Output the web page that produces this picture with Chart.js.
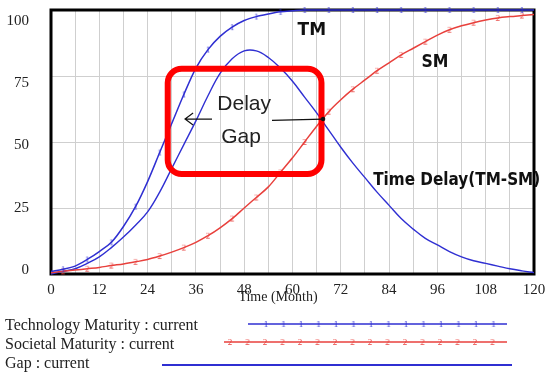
<!DOCTYPE html>
<html>
<head>
<meta charset="utf-8">
<script src="https://cdn.jsdelivr.net/npm/chart.js@4.4.1/dist/chart.umd.min.js"></script>
<style>
  html, body { margin: 0; padding: 0; background: #fff; }
</style>
</head>
<body>
<canvas id="chart" width="547" height="373"></canvas>
<script>
// ================= DATA =================
const months = [0, 3, 6, 9, 12, 15, 18, 21, 24, 27, 30, 33, 36, 39, 42, 45, 48, 51, 54, 57, 60,
  63, 66, 69, 72, 75, 78, 81, 84, 87, 90, 93, 96, 99, 102, 105, 108, 111, 114, 117, 120];

// Technology Maturity (TM)
const techMaturity = [1, 1.8, 3, 5.5, 8.5, 12, 18, 25.5, 35, 46, 57, 68, 78, 85, 90, 93.5, 96, 97.5, 98.5, 99.3, 99.7,
  100, 100, 100, 100, 100, 100, 100, 100, 100, 100, 100, 100, 100, 100, 100, 100, 100, 100, 100, 100];

// Societal Maturity (SM)
const socMaturity = [0.5, 1, 1.5, 2, 2.5, 3.2, 3.8, 4.6, 5.5, 6.8, 8.3, 10, 12, 14.5, 17.5, 21, 25, 29, 33, 38.5, 44,
  50, 56, 61.5, 66, 70, 73.5, 77, 80, 83, 85.5, 88, 90.5, 92.5, 94, 95.2, 96.2, 97, 97.5, 97.9, 98.3];

// Gap / Time Delay (TM-SM)
const gap = [0, 1, 2, 4, 6.5, 10, 14, 18.5, 23.5, 31, 40, 49, 58, 67.5, 76, 81.5, 84.5, 84.5, 82, 78, 73,
  67, 61, 54.5, 48, 42, 36.5, 31, 26, 21, 17, 13.5, 11, 8.5, 6.5, 5, 4, 3, 2, 1.2, 0.5];

const xTicks = [0, 12, 24, 36, 48, 60, 72, 84, 96, 108, 120];
const yTicks = [0, 25, 50, 75, 100];

const legendNames = ["Technology Maturity : current", "Societal Maturity : current", "Gap : current"];
const xTitle = "Time (Month)";

// ================= STYLE =================
const BLUE = "#2f2fd2";
const RED = "#e8403c";
const SERIF = '"Liberation Serif", "Times New Roman", serif';

function makeMark(ch, color) {
  const c = document.createElement("canvas");
  c.width = 8; c.height = 10;
  const g = c.getContext("2d");
  g.fillStyle = color;
  g.font = "9px " + SERIF;
  g.textAlign = "center";
  g.textBaseline = "middle";
  g.fillText(ch, 4, 5.5);
  return c;
}
const mark1 = makeMark("1", BLUE);
const mark2 = makeMark("2", RED);

const toPts = ys => months.map((m, i) => ({ x: m, y: ys[i] }));

const noPad = s => {
  s.paddingTop = 0; s.paddingBottom = 0;
  s.paddingLeft = 0; s.paddingRight = 0;
};

// ================= ANNOTATIONS =================
const notes = {
  id: "notes",
  beforeDatasetsDraw(chart) {
    const { ctx, chartArea: a } = chart;
    ctx.save();
    ctx.strokeStyle = "#000";
    ctx.lineWidth = 3;
    ctx.strokeRect(a.left, a.top, a.right - a.left, a.bottom - a.top);
    ctx.restore();
  },
  afterDraw(chart) {
    const { ctx, chartArea: a } = chart;
    const X = v => chart.scales.x.getPixelForValue(v);
    const Y = v => chart.scales.y.getPixelForValue(v);
    ctx.save();

    // red rounded box
    ctx.strokeStyle = "#ff0000";
    ctx.lineWidth = 6;
    ctx.beginPath();
    ctx.roundRect(X(29), Y(77.7), X(67.2) - X(29), Y(37.9) - Y(77.7), 14);
    ctx.stroke();

    // Delay Gap text
    ctx.fillStyle = "#222";
    ctx.font = '21px "Liberation Sans", Arial, sans-serif';
    ctx.textAlign = "center";
    ctx.textBaseline = "alphabetic";
    ctx.fillText("Delay", X(48), Y(62), 54);
    ctx.fillText("Gap", X(47.2), Y(49.5), 40);

    // arrows
    ctx.strokeStyle = "#111";
    ctx.lineWidth = 1.2;
    ctx.beginPath();
    ctx.moveTo(X(40), Y(58.7));
    ctx.lineTo(X(33.3), Y(58.7));
    ctx.moveTo(X(35.3), Y(61));
    ctx.lineTo(X(33.3), Y(58.7));
    ctx.lineTo(X(35.3), Y(56.4));
    ctx.moveTo(X(54.9), Y(58.2));
    ctx.lineTo(X(67.6), Y(58.7));
    ctx.stroke();
    ctx.fillStyle = "#111";
    ctx.beginPath();
    ctx.arc(X(67.6), Y(58.7), 2.2, 0, Math.PI * 2);
    ctx.fill();

    // curve labels
    ctx.fillStyle = "#111";
    ctx.textBaseline = "middle";
    ctx.font = 'bold 17px "DejaVu Sans", sans-serif';
    ctx.fillText("TM", X(64.8), Y(92.2), 29);
    ctx.fillText("SM", X(95.4), Y(80), 27);
    ctx.fillText("Time Delay(TM-SM)", X(100.8), Y(35.4), 167);

    // axis title
    ctx.font = "14px " + SERIF;
    ctx.fillStyle = "#222";
    ctx.fillText(xTitle, 278, a.bottom + 23);

    // legend
    ctx.textAlign = "left";
    ctx.textBaseline = "alphabetic";
    ctx.font = "16px " + SERIF;
    ctx.fillText(legendNames[0], 5, 330);
    ctx.fillText(legendNames[1], 5, 349);
    ctx.fillText(legendNames[2], 5, 368);

    ctx.lineWidth = 1.6;
    ctx.strokeStyle = BLUE;
    ctx.beginPath(); ctx.moveTo(248, 324); ctx.lineTo(507, 324); ctx.stroke();
    for (let i = 0; i < 14; i++) ctx.drawImage(mark1, 266 + i * 17.5 - 4, 324 - 5);

    ctx.strokeStyle = RED;
    ctx.beginPath(); ctx.moveTo(224, 342); ctx.lineTo(507, 342); ctx.stroke();
    for (let i = 0; i < 16; i++) ctx.drawImage(mark2, 230 + i * 17.5 - 4, 342 - 5);

    ctx.strokeStyle = BLUE;
    ctx.lineWidth = 2;
    ctx.beginPath(); ctx.moveTo(162, 365); ctx.lineTo(512, 365); ctx.stroke();

    ctx.restore();
  }
};

// ================= CHART =================
new Chart(document.getElementById("chart"), {
  type: "line",
  data: {
    datasets: [
      {
        label: "Technology Maturity",
        data: toPts(techMaturity),
        borderColor: BLUE,
        borderWidth: 1.5,
        pointStyle: mark1,
        pointRadius: c => (c.dataIndex % 2 === 1 ? 4 : 0),
        cubicInterpolationMode: "monotone",
        clip: 5
      },
      {
        label: "Societal Maturity",
        data: toPts(socMaturity),
        borderColor: RED,
        borderWidth: 1.5,
        pointStyle: mark2,
        pointRadius: c => (c.dataIndex % 2 === 1 ? 4 : 0),
        cubicInterpolationMode: "monotone",
        clip: 5
      },
      {
        label: "Gap",
        data: toPts(gap),
        borderColor: BLUE,
        borderWidth: 1.4,
        pointRadius: 0,
        tension: 0.4,
        clip: 5
      }
    ]
  },
  options: {
    responsive: false,
    animation: false,
    events: [],
    layout: { padding: { top: 10, right: 13, left: 0, bottom: 0 } },
    plugins: { legend: { display: false }, tooltip: { enabled: false } },
    scales: {
      x: {
        type: "linear",
        min: 0,
        max: 120,
        afterFit: s => { s.height = 99; noPad(s); },
        grid: { color: "#cfcfcf", lineWidth: 1, drawTicks: false },
        border: { display: false },
        ticks: {
          stepSize: 6,
          padding: 7,
          color: "#222",
          font: { family: SERIF, size: 15 },
          maxRotation: 0,
          autoSkip: false,
          callback: v => (xTicks.includes(v) ? String(v) : "")
        }
      },
      y: {
        min: 0,
        max: 100,
        weight: 0,
        afterFit: s => { s.width = 0; noPad(s); },
        grid: { color: "#cfcfcf", lineWidth: 1, drawTicks: false },
        border: { display: false },
        ticks: { display: false, stepSize: 25 }
      },
      yl: {
        position: "left",
        weight: 1,
        min: -1.6,
        max: 104.4,
        afterFit: s => { s.width = 51; noPad(s); },
        afterBuildTicks: s => { s.ticks = yTicks.map(v => ({ value: v })); },
        grid: { display: false },
        border: { display: false },
        ticks: {
          padding: 14,
          color: "#222",
          font: { family: SERIF, size: 15 }
        }
      }
    }
  },
  plugins: [notes]
});
</script>
</body>
</html>
